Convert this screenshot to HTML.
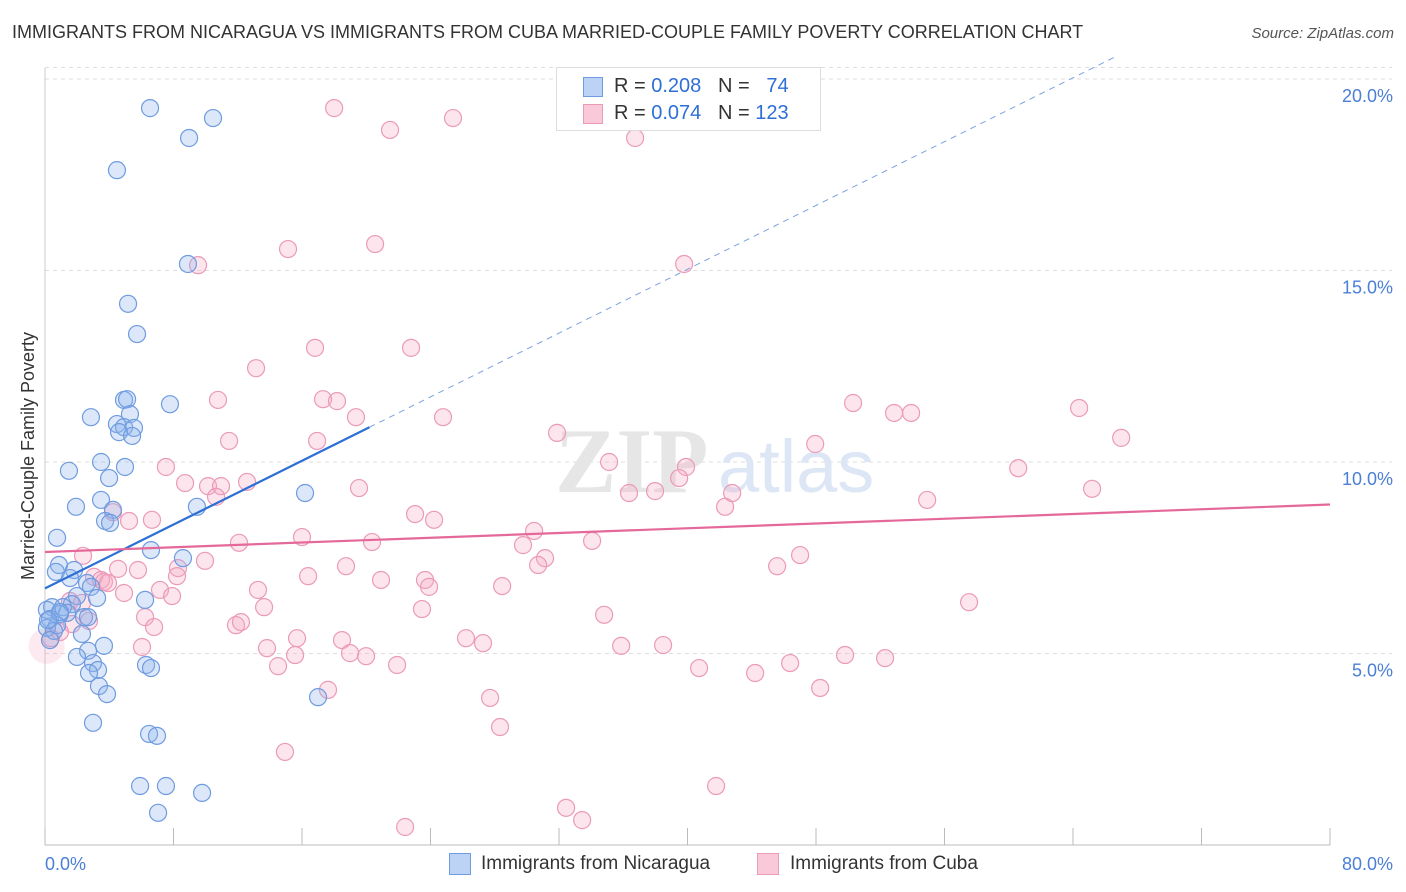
<!DOCTYPE html>
<html><head><meta charset="utf-8">
<style>
body{margin:0;background:#fff;font-family:"Liberation Sans",sans-serif;}
#wrap{position:relative;width:1406px;height:892px;overflow:hidden;}
.t{position:absolute;white-space:nowrap;}
</style></head>
<body>
<div id="wrap">
<div class="t" style="left:12px;top:22px;font-size:18px;color:#333;">IMMIGRANTS FROM NICARAGUA VS IMMIGRANTS FROM CUBA MARRIED-COUPLE FAMILY POVERTY CORRELATION CHART</div>
<div class="t" style="right:12px;top:25px;font-size:15px;color:#555;font-style:italic;">Source: ZipAtlas.com</div>
<svg id="svg" width="1406" height="892" style="position:absolute;left:0;top:0"></svg>
</div>
<script>
const blueX=[6.54,10.46,8.97,4.48,8.90,5.17,5.73,4.92,5.11,2.86,7.78,5.29,4.48,4.92,5.54,4.61,5.42,3.49,1.49,4.98,3.99,1.93,3.49,9.46,16.19,4.23,3.74,4.05,0.75,6.60,8.59,0.87,1.81,0.68,1.56,2.62,2.86,1.99,3.24,6.23,1.68,0.44,1.12,0.12,1.37,0.93,2.43,2.68,0.31,0.75,0.12,0.56,2.30,3.67,2.68,1.99,6.29,6.60,2.99,3.30,2.74,3.36,3.86,17.0,2.99,6.48,6.97,5.92,7.53,9.78,7.04,0.31,0.93,0.19];
const blueY=[19.24,18.98,18.46,17.62,15.17,14.13,13.34,11.62,11.64,11.17,11.51,11.25,10.99,10.91,10.89,10.78,10.68,10.0,9.77,9.87,9.58,8.83,9.01,8.83,9.19,8.75,8.46,8.41,8.02,7.70,7.49,7.31,7.18,7.13,6.97,6.84,6.74,6.50,6.45,6.40,6.29,6.21,6.21,6.14,6.06,6.03,5.95,5.95,5.90,5.74,5.67,5.59,5.51,5.20,5.07,4.91,4.70,4.62,4.75,4.57,4.49,4.15,3.94,3.86,3.19,2.90,2.85,1.54,1.54,1.36,0.84,5.35,6.08,5.87];
const pinkX=[18.0,25.4,21.48,36.74,15.13,20.55,9.53,39.79,13.14,16.81,22.79,10.77,17.31,18.18,19.36,24.78,50.31,52.86,53.92,64.38,67.0,11.46,16.94,31.88,47.95,7.53,35.12,39.91,39.48,60.59,8.72,10.15,10.96,12.58,19.55,36.36,37.98,42.78,65.19,10.65,54.92,42.34,23.04,24.22,4.23,6.66,5.23,30.45,12.08,16.0,20.36,29.76,34.06,2.37,31.13,30.70,47.01,45.58,4.55,5.79,8.28,9.96,18.74,8.22,16.38,23.66,20.92,28.46,23.91,3.05,3.49,3.67,3.92,7.16,7.91,13.26,4.92,1.56,2.30,13.64,23.47,34.81,57.53,6.23,6.79,11.89,12.2,2.74,1.68,0.93,0.37,15.69,26.21,27.27,35.87,38.48,18.49,18.99,19.99,13.82,15.57,6.04,49.81,52.3,14.51,21.92,40.72,44.21,46.39,17.62,27.71,48.26,28.33,14.94,41.78,32.44,33.44,22.42];
const pinkY=[19.24,18.98,18.67,18.46,15.56,15.69,15.14,15.17,12.45,12.98,12.98,11.62,11.64,11.59,11.17,11.17,11.54,11.28,11.28,11.41,10.63,10.55,10.55,10.76,10.47,9.87,10.0,9.87,9.58,9.84,9.45,9.37,9.37,9.48,9.32,9.19,9.24,9.19,9.30,9.09,9.01,8.83,8.64,8.49,8.69,8.49,8.46,8.20,7.89,8.04,7.91,7.83,7.94,7.55,7.49,7.31,7.57,7.28,7.21,7.18,7.23,7.42,7.28,7.02,7.02,6.92,6.92,6.76,6.74,7.0,6.92,6.87,6.84,6.66,6.50,6.66,6.58,6.37,6.32,6.21,6.16,6.01,6.34,5.95,5.69,5.74,5.82,5.85,5.77,5.56,5.40,5.40,5.40,5.27,5.20,5.22,5.35,5.01,4.93,5.14,4.96,5.17,4.96,4.88,4.67,4.70,4.62,4.49,4.75,4.05,3.84,4.10,3.08,2.43,1.54,0.97,0.65,0.47];
const xTicks=[0,8,16,24,32,40,48,56,64,72,80];
const yTicks=[5,10,15,20];
const yTickLabels=["5.0%","10.0%","15.0%","20.0%"];
const blueTrend=[6.7,0.2083]; // intercept %, slope
const pinkTrend=[7.65,0.0155];

const svg=document.getElementById('svg');
const NS='http://www.w3.org/2000/svg';
const X=v=>45+v*(1330-45)/80;
const Y=v=>845-v*38.3;
function mk(t,a,p){const e=document.createElementNS(NS,t);for(const k in a)e.setAttribute(k,a[k]);(p||svg).appendChild(e);return e;}

// grid
yTicks.forEach((v,i)=>{
 const g=mk('line',{x1:45,x2:1392,y1:Y(v),y2:Y(v),stroke:'#ddd','stroke-dasharray':'4,4'});
 
 
 const t=mk('text',{x:1393,y:Y(v)+23,'text-anchor':'end','font-size':18,fill:'#4a7fd6','font-family':'Liberation Sans'});
 t.textContent=yTickLabels[i];
 
 
});
mk('line',{x1:45,x2:1392,y1:Y(20.3),y2:Y(20.3),stroke:'#ddd','stroke-dasharray':'4,4'});
const ax=mk('line',{x1:45,x2:1330,y1:845,y2:845,stroke:'#bbb'});


mk('line',{x1:45,x2:45,y1:68,y2:845,stroke:'#ccc'});
xTicks.forEach(v=>{
 const l=mk('line',{x1:X(v),x2:X(v),y1:828,y2:845,stroke:'#bbb'});
 
 
});
const xl0=mk('text',{x:45,y:870,'font-size':18,fill:'#4a7fd6','font-family':'Liberation Sans'});xl0.textContent='0.0%';


const xl1=mk('text',{x:1393,y:870,'text-anchor':'end','font-size':18,fill:'#4a7fd6','font-family':'Liberation Sans'});xl1.textContent='80.0%';


const yt=mk('text',{x:34,y:456,'text-anchor':'middle','font-size':18,fill:'#333','font-family':'Liberation Sans',transform:'rotate(-90 34 456)'});yt.textContent='Married-Couple Family Poverty';



// watermark
const wm=mk('text',{x:555,y:492,'font-size':92,fill:'#e6e6e6','font-family':'Liberation Serif','font-weight':'bold'});wm.textContent='ZIP';


const wm2=mk('text',{x:718,y:492,'font-size':74,fill:'#dce6f5','font-family':'Liberation Sans'});wm2.textContent='atlas';



// points
mk('circle',{cx:X(0.1),cy:Y(5.2),r:18,fill:'rgba(240,150,180,0.2)',stroke:'none'});
pinkX.forEach((x,i)=>{
 const c=mk('circle',{cx:X(x),cy:Y(pinkY[i]),r:8.5,fill:'rgba(244,168,194,0.3)',stroke:'#eb9ab8','stroke-width':1.2});
 
 
});
blueX.forEach((x,i)=>{
 const c=mk('circle',{cx:X(x),cy:Y(blueY[i]),r:8.5,fill:'rgba(140,178,236,0.3)',stroke:'#6f9be0','stroke-width':1.2});
 
 
});
// trends
const bt=v=>blueTrend[0]+blueTrend[1]*v;
const l1=mk('line',{x1:X(0),y1:Y(bt(0)),x2:X(20.2),y2:Y(bt(20.2)),stroke:'#2e6fd6','stroke-width':2.2});


const xe=(20.6-blueTrend[0])/blueTrend[1];
mk('line',{x1:X(20.2),y1:Y(bt(20.2)),x2:X(xe),y2:Y(20.6),stroke:'#7aa3e0','stroke-width':1,'stroke-dasharray':'6,5'});
const pt=v=>pinkTrend[0]+pinkTrend[1]*v;
const l2=mk('line',{x1:X(0),y1:Y(pt(0)),x2:X(80),y2:Y(pt(80)),stroke:'#e4689a','stroke-width':2.2});


</script>
<div class="t" style="left:556px;top:67px;width:263px;height:62px;border:1px solid #ddd;background:#fff;">
 <div class="t" style="left:26px;top:9px;width:18px;height:18px;background:#bcd3f5;border:1px solid #6f9be0;"></div>
 <div class="t" style="left:57px;top:7px;font-size:20px;color:#333;">R = <span style="color:#2e6fd6">0.208</span>&nbsp;&nbsp;&nbsp;N = &nbsp;&nbsp;<span style="color:#2e6fd6">74</span></div>
 <div class="t" style="left:26px;top:36px;width:18px;height:18px;background:#f9c9d9;border:1px solid #eb9ab8;"></div>
 <div class="t" style="left:57px;top:34px;font-size:20px;color:#333;">R = <span style="color:#2e6fd6">0.074</span>&nbsp;&nbsp;&nbsp;N = <span style="color:#2e6fd6">123</span></div>
</div>
<div class="t" style="left:449px;top:853px;width:20px;height:20px;background:#bcd3f5;border:1px solid #6f9be0;"></div>
<div class="t" style="left:481px;top:853px;font-size:19px;color:#333;">Immigrants from Nicaragua</div>
<div class="t" style="left:757px;top:853px;width:20px;height:20px;background:#f9c9d9;border:1px solid #eb9ab8;"></div>
<div class="t" style="left:790px;top:853px;font-size:19px;color:#333;">Immigrants from Cuba</div>
</body></html>
